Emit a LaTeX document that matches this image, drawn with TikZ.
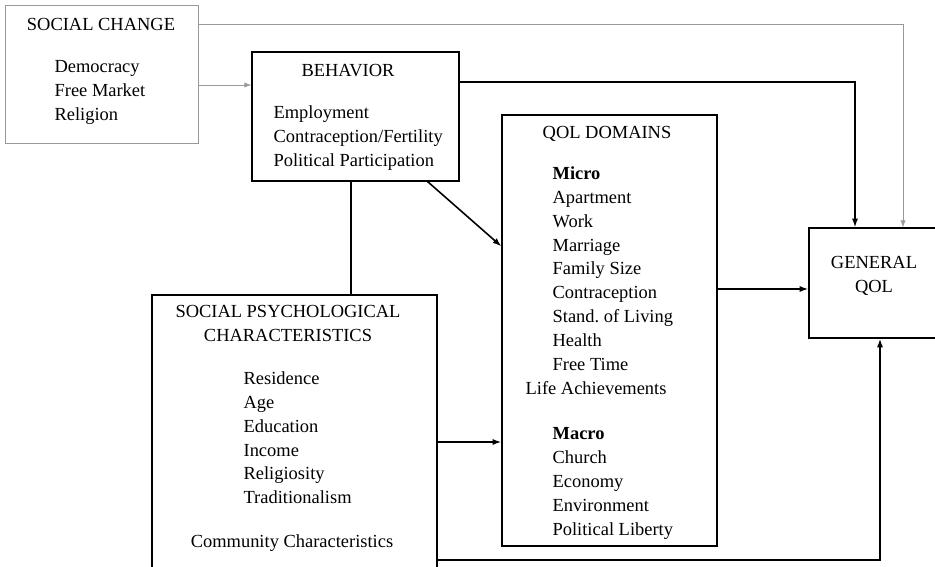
\documentclass[tikz,border=0pt]{standalone}
\usepackage{fontspec}
\setmainfont{Liberation Serif}
\usetikzlibrary{arrows.meta}

\begin{document}
\begin{tikzpicture}[x=0.02cm,y=-0.02cm,line width=0.7pt,
  box/.style={draw,inner sep=0pt},
  greybox/.style={draw=black!40,line width=0.5pt,inner sep=0pt},
  txt/.style={inner sep=0pt,align=left,font=\fontsize{10.5}{13.6}\selectfont},
  ctr/.style={inner sep=0pt,align=center,font=\fontsize{10.5}{13.6}\selectfont},
  conn/.style={line width=0.9pt},
  arr/.style={-{Latex[length=5pt,width=3.5pt]},line width=0.9pt},
  greyarr/.style={-{Latex[length=4pt,width=3pt]},draw=black!40,line width=0.5pt}]
\useasboundingbox (0,0) rectangle (935,567);

% boxes
\node[greybox,minimum width=3.86cm,minimum height=2.76cm] (change) at (101.5,74) {};
\node[box,minimum width=4.14cm,minimum height=2.58cm] (behav) at (355.5,116.5) {};
\node[box,minimum width=4.3cm,minimum height=8.62cm] (qol) at (609.5,330.5) {};
\node[box,minimum width=2.72cm,minimum height=2.2cm] (gen) at (877,283) {};
\node[box,minimum width=5.7cm,minimum height=5.7cm] (spc) at (294.5,437.5) {};

% texts
\node[ctr,anchor=north] (change_t) at (101,18) {SOCIAL CHANGE};
\node[txt,anchor=north west] (change_l) at (54,60) {Democracy\\Free Market\\Religion};
\node[ctr,anchor=north] (behav_t) at (348,64) {BEHAVIOR};
\node[txt,anchor=north west] (behav_l) at (273,105) {Employment\\Contraception/Fertility\\Political Participation};
\node[ctr,anchor=north] (qol_t) at (607,126) {QOL DOMAINS};
\node[txt,anchor=north west] (qol_l) at (552,166) {\textbf{Micro}\\Apartment\\Work\\Marriage\\Family Size\\Contraception\\Stand.\ of Living\\Health\\Free Time\\\hspace*{-0.54cm}Life Achievements\\[12pt]\textbf{Macro}\\Church\\Economy\\Environment\\Political Liberty};
\node[ctr,anchor=north] (spc_t) at (288,305) {SOCIAL PSYCHOLOGICAL\\CHARACTERISTICS};
\node[txt,anchor=north west] (spc_l) at (243,371) {Residence\\Age\\Education\\Income\\Religiosity\\Traditionalism};
\node[ctr,anchor=north] (spc_c) at (292,534) {Community Characteristics};
\node[ctr,anchor=north] (gen_t) at (874,256) {GENERAL\\QOL};

% connectors
\coordinate (c1) at ([yshift=-0.22cm]change.east);
\draw[greyarr] (c1) -- (c1 -| behav.west);
\coordinate (c2) at ([yshift=1cm]change.east);
\coordinate (g2) at ([xshift=0.52cm]gen.north);
\draw[greyarr] (c2) -- (c2 -| g2) -- (g2);
\coordinate (b1) at ([yshift=0.69cm]behav.east);
\coordinate (g1) at ([xshift=-0.44cm]gen.north);
\draw[arr] (b1) -- (b1 -| g1) -- (g1);
\coordinate (b2) at ([xshift=-0.64cm]behav.south east);
\coordinate (q1) at ([yshift=-2.64cm]qol.north west);
\draw[arr] (b2) -- (q1);
\coordinate (b3) at ([xshift=-0.09cm]behav.south);
\draw[conn] (b3) -- (b3 |- spc.north);
\coordinate (s1) at ([yshift=-0.09cm]spc.east);
\draw[arr] (s1) -- (s1 -| qol.west);
\coordinate (g3) at ([yshift=-0.12cm]gen.west);
\draw[arr] (g3 -| qol.east) -- (g3);
\coordinate (s2) at ([yshift=-2.45cm]spc.east);
\coordinate (g4) at ([xshift=0.06cm]gen.south);
\draw[arr] (s2) -- (s2 -| g4) -- (g4);
\end{tikzpicture}
\end{document}
